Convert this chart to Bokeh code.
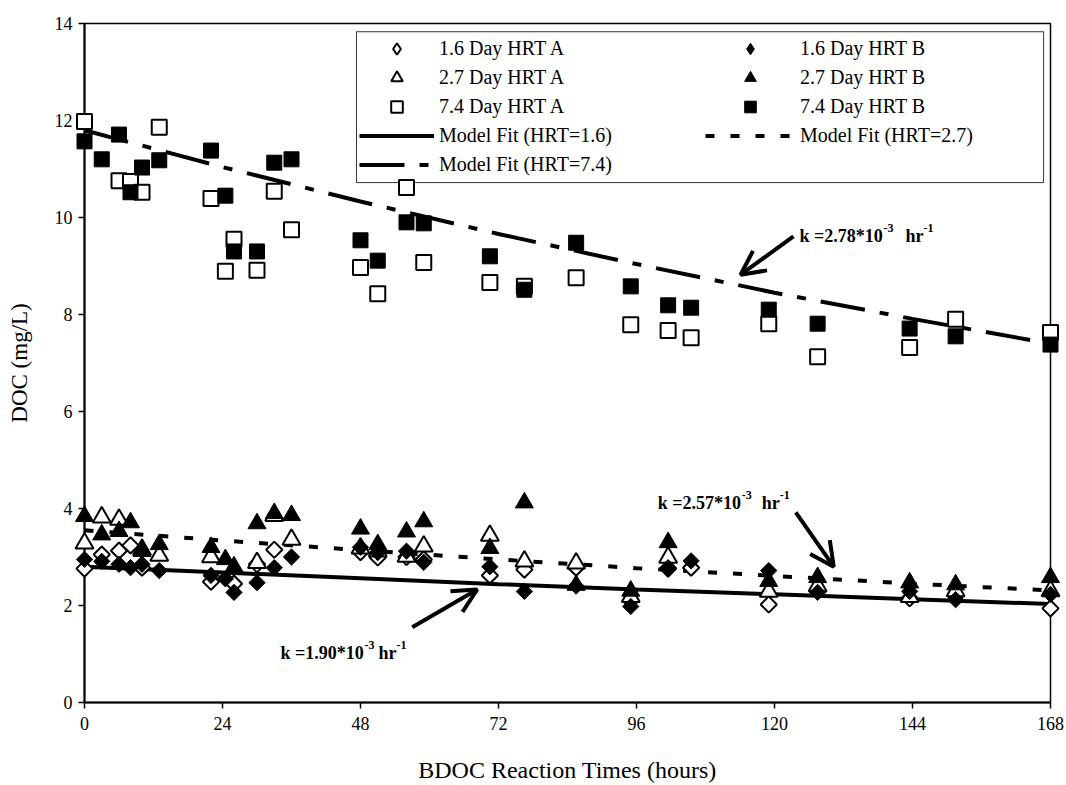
import numpy as np
from bokeh.plotting import figure
from bokeh.models import (Range1d, FixedTicker, Legend, LegendItem, Label, Arrow,
                          OpenHead, BoxAnnotation)
from bokeh.embed import file_html
from bokeh.resources import INLINE

FONT = "Liberation Serif"

# ---------------- data ----------------
x_ticks = [0, 24, 48, 72, 96, 120, 144, 168]
y_ticks = [0, 2, 4, 6, 8, 10, 12, 14]

# 1.6 Day HRT A (open diamonds)
t_16a = [0, 3, 6, 8, 10, 22, 26, 30, 33, 48, 51, 56, 59, 70.5, 76.5, 85.5, 95, 101.5,
         105.5, 119, 127.5, 143.5, 151.5, 168]
doc_16a = [2.76, 3.05, 3.13, 3.24, 2.78, 2.49, 2.45, 2.85, 3.15, 3.10, 2.99, 3.00, 2.95, 2.62,
           2.74, 2.78, 2.10, 2.76, 2.78, 2.02, 2.30, 2.15, 2.20, 1.94]
# 1.6 Day HRT B (filled diamonds)
t_16b = [0, 3, 6, 8, 10, 13, 22, 24.5, 26, 30, 33, 36, 48, 51, 56, 59, 70.5, 76.5, 85.5, 95,
         101.5, 105.5, 119, 127.5, 143.5, 151.5, 168]
doc_16b = [2.95, 2.91, 2.85, 2.78, 2.85, 2.72, 2.62, 2.55, 2.27, 2.47, 2.78, 3.00, 3.20, 3.09,
           3.12, 2.89, 2.80, 2.29, 2.40, 1.98, 2.78, 2.92, 2.72, 2.27, 2.29, 2.12, 2.23]
# 2.7 Day HRT A (open triangles)
t_27a = [0, 3, 6, 10, 13, 22, 30, 33, 36, 48, 51, 56, 59, 70.5, 76.5, 85.5, 95, 101.5, 119,
         127.5, 143.5, 151.5, 168]
doc_27a = [3.28, 3.82, 3.77, 3.15, 3.03, 3.00, 2.88, 3.85, 3.36, 3.18, 3.12, 3.01, 3.22, 3.44,
           2.91, 2.87, 2.18, 2.99, 2.29, 2.40, 2.18, 2.30, 2.30]
# 2.7 Day HRT B (filled triangles)
t_27b = [0, 3, 6, 8, 10, 13, 22, 24.5, 26, 30, 33, 36, 48, 51, 56, 59, 70.5, 76.5, 85.5, 95,
         101.5, 119, 127.5, 143.5, 151.5, 168]
doc_27b = [3.84, 3.46, 3.53, 3.71, 3.12, 3.26, 3.20, 2.95, 2.80, 3.69, 3.90, 3.86, 3.58, 3.26,
           3.52, 3.73, 3.18, 4.12, 2.42, 2.30, 3.30, 2.50, 2.58, 2.47, 2.43, 2.58]
# 7.4 Day HRT A (open squares)
t_74a = [0, 6, 8, 10, 13, 22, 24.5, 26, 30, 33, 36, 48, 51, 56, 59, 70.5, 76.5, 85.5, 95,
         101.5, 105.5, 119, 127.5, 143.5, 151.5, 168]
doc_74a = [11.98, 10.76, 10.74, 10.52, 11.86, 10.39, 8.89, 9.55, 8.91, 10.54, 9.75, 8.97, 8.43,
           10.62, 9.07, 8.66, 8.58, 8.76, 7.79, 7.67, 7.52, 7.81, 7.13, 7.32, 7.90, 7.63]
# 7.4 Day HRT B (filled squares)
t_74b = [0, 3, 6, 8, 10, 13, 22, 24.5, 26, 30, 33, 36, 48, 51, 56, 59, 70.5, 76.5, 85.5, 95,
         101.5, 105.5, 119, 127.5, 143.5, 151.5, 168]
doc_74b = [11.57, 11.20, 11.71, 10.52, 11.03, 11.18, 11.38, 10.45, 9.30, 9.30, 11.13, 11.20,
           9.53, 9.11, 9.90, 9.88, 9.20, 8.51, 9.48, 8.58, 8.19, 8.14, 8.10, 7.81, 7.71, 7.55, 7.38]

# model fit curves, read at the tick times
t_fit = [0, 24, 48, 72, 96, 120, 144, 168]
fit_16 = [2.80, 2.68, 2.56, 2.44, 2.33, 2.23, 2.13, 2.03]
fit_27 = [3.55, 3.34, 3.14, 2.95, 2.77, 2.61, 2.45, 2.31]
fit_74 = [11.80, 11.04, 10.33, 9.66, 9.04, 8.45, 7.91, 7.40]

# ---------------- figure ----------------
p = figure(width=1066, height=785, output_backend="svg", toolbar_location=None,
           x_range=Range1d(0, 168), y_range=Range1d(0, 14),
           min_border_left=84, min_border_right=16, min_border_top=23, min_border_bottom=82)
p.xgrid.visible = False
p.ygrid.visible = False
p.outline_line_color = "black"
p.outline_line_width = 1.5
p.outline_line_alpha = 1

for ax in (p.xaxis[0], p.yaxis[0]):
    ax.axis_line_width = 2
    ax.axis_line_color = "black"
    ax.major_tick_out = 6
    ax.major_tick_in = 0
    ax.minor_tick_out = 0
    ax.minor_tick_in = 0
    ax.major_tick_line_width = 1.5
    ax.major_label_text_font = FONT
    ax.major_label_text_font_size = "18px"
    ax.major_label_text_color = "black"
    ax.axis_label_text_font = FONT
    ax.axis_label_text_font_style = "normal"
    ax.axis_label_text_color = "black"

p.xaxis.ticker = FixedTicker(ticks=x_ticks)
p.yaxis.ticker = FixedTicker(ticks=y_ticks)
p.xaxis.major_label_standoff = 8
p.yaxis.major_label_standoff = 6
p.xaxis.axis_label = "BDOC Reaction Times (hours)"
p.xaxis.axis_label_text_font_size = "24px"
p.xaxis.axis_label_standoff = 24
p.yaxis.axis_label = "DOC (mg/L)"
p.yaxis.axis_label_text_font_size = "23px"
p.yaxis.axis_label_standoff = 20

# fit lines
l16 = p.line(t_fit, fit_16, line_color="black", line_width=4)
l27 = p.line(t_fit, fit_27, line_color="black", line_width=4, line_dash="9 16")
l74 = p.line(t_fit, fit_74, line_color="black", line_width=4, line_dash="45 15 9 15")

# markers (diamonds drawn as 45-degree squares; hidden diamond renderers feed the legend)
open_kw = dict(fill_color="white", line_color="black", line_width=2, level="overlay")
fill_kw = dict(fill_color="black", line_color="black", line_width=1, level="overlay")
p.scatter(t_16a, doc_16a, marker="square", angle=np.pi / 4, size=11.5, **open_kw)
r27a = p.scatter(t_27a, doc_27a, marker="triangle", size=18, **open_kw)
r74a = p.scatter(t_74a, doc_74a, marker="square", size=15, **open_kw)
p.scatter(t_16b, doc_16b, marker="square", angle=np.pi / 4, size=11.5, **fill_kw)
r27b = p.scatter(t_27b, doc_27b, marker="triangle", size=18, **fill_kw)
r74b = p.scatter(t_74b, doc_74b, marker="square", size=15, **fill_kw)

r16a = p.scatter(t_16a, doc_16a, marker="diamond", size=18, fill_color="white",
                 line_color="black", line_width=2, visible=False)
r16b = p.scatter(t_16b, doc_16b, marker="diamond", size=18, fill_color="black",
                 line_color="black", line_width=1, visible=False)

# legend box
box = BoxAnnotation(left=47.3, right=166.8, top=13.83, bottom=10.72,
                    fill_color="white", fill_alpha=1, line_color="black", line_width=1,
                    line_alpha=0.8)
p.add_layout(box)

leg_common = dict(orientation="vertical", glyph_height=29, label_height=29, spacing=0,
                  padding=3, label_standoff=5, label_text_font=FONT,
                  label_text_font_size="20px", label_text_color="black",
                  background_fill_alpha=0, border_line_alpha=0, margin=0,
                  inactive_fill_alpha=0)
leg1 = Legend(items=[LegendItem(label="1.6 Day HRT A", renderers=[r16a]),
                     LegendItem(label="2.7 Day HRT A", renderers=[r27a]),
                     LegendItem(label="7.4 Day HRT A", renderers=[r74a]),
                     LegendItem(label="Model Fit (HRT=1.6)", renderers=[l16]),
                     LegendItem(label="Model Fit (HRT=7.4)", renderers=[l74])],
              location=(272, 520), glyph_width=75, **leg_common)
leg2 = Legend(items=[LegendItem(label="1.6 Day HRT B", renderers=[r16b]),
                     LegendItem(label="2.7 Day HRT B", renderers=[r27b]),
                     LegendItem(label="7.4 Day HRT B", renderers=[r74b]),
                     LegendItem(label="Model Fit (HRT=2.7)", renderers=[l27])],
              location=(618, 549), glyph_width=90, **leg_common)
p.add_layout(leg1)
p.add_layout(leg2)

# rate-constant annotations
def k_label(x, y, k, gap):
    base = dict(x=x, y=y, text_font=FONT, text_font_style="bold", text_color="black",
                text_baseline="alphabetic", text_align="left")
    p.add_layout(Label(text="k =" + k + "*10", text_font_size="18px", **base))
    p.add_layout(Label(text="-3", text_font_size="12px", x_offset=84, y_offset=8, **base))
    p.add_layout(Label(text="hr", text_font_size="18px", x_offset=94 + gap, **base))
    p.add_layout(Label(text="-1", text_font_size="12px", x_offset=112 + gap, y_offset=8, **base))

k_label(124.35, 9.61, "2.78", 12)
k_label(99.7, 4.12, "2.57", 10)
k_label(34.1, 1.03, "1.90", 4)

def arrow(x0, y0, x1, y1):
    p.add_layout(Arrow(end=OpenHead(size=24, line_width=4, line_color="black"),
                       x_start=x0, y_start=y0, x_end=x1, y_end=y1,
                       line_width=4, line_color="black"))

arrow(123.3, 9.61, 114.1, 8.82)
arrow(123.7, 3.92, 130.3, 2.80)
arrow(57.0, 1.55, 68.3, 2.33)

open("out.html", "w").write(file_html(p, INLINE))
